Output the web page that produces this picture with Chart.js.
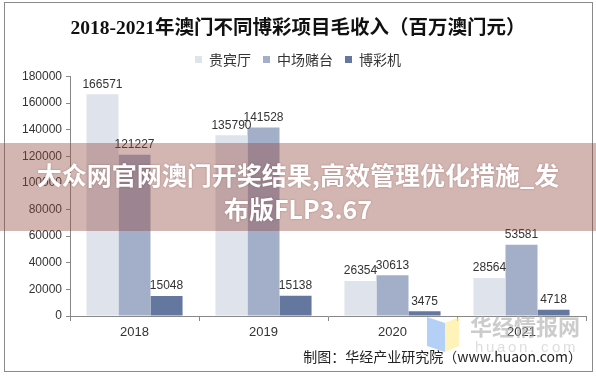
<!DOCTYPE html>
<html>
<head>
<meta charset="utf-8">
<script src="https://cdn.jsdelivr.net/npm/chart.js@4.4.1/dist/chart.umd.min.js"></script>
<style>
  html, body { margin: 0; padding: 0; background: #fff; }
  #wrap { width: 596px; height: 376px; }
</style>
</head>
<body>
<div id="wrap"><canvas id="gaugeChartincome" width="596" height="376"></canvas></div>
<script>
var years = ['2018', '2019', '2020', '2021'];
var seriesNames = ['贵宾厅', '中场赌台', '博彩机'];
var vipValues = [166571, 135790, 26354, 28564];
var massValues = [121227, 141528, 30613, 53581];
var slotValues = [15048, 15138, 3475, 4718];
var yTicks = [0, 20000, 40000, 60000, 80000, 100000, 120000, 140000, 160000, 180000];
var titleText = '2018-2021年澳门不同博彩项目毛收入（百万澳门元）';
var sourceText = '制图：华经产业研究院（www.huaon.com）';
var bannerLines = ['大众网官网澳门开奖结果,高效管理优化措施_发', '布版FLP3.67'];

var colors = ['#dfe3ec', '#a3afc8', '#64779f'];
var cjk = '"Noto Sans CJK SC", "Noto Sans", sans-serif';

var ctxincome = document.getElementById('gaugeChartincome').getContext('2d');

// labels over the bars
const barvalues = {
  id: 'barvalues',
  afterDatasetsDraw(chart) {
    const {ctx} = chart;
    ctx.save();
    ctx.font = '12px "Liberation Sans", Arial, sans-serif';
    ctx.fillStyle = '#333';
    ctx.textAlign = 'center';
    ctx.textBaseline = 'bottom';
    chart.data.datasets.forEach((ds, i) => {
      chart.getDatasetMeta(i).data.forEach((bar, j) => {
        ctx.fillText(ds.data[j], bar.x, bar.y - 4);
      });
    });
    ctx.restore();
  }
};

// outer frame, logo, source note, banner on top
const overlay = {
  id: 'overlay',
  afterDraw(chart) {
    const {ctx} = chart;
    ctx.save();
    ctx.strokeStyle = '#8a8a8a';
    ctx.lineWidth = 1;
    ctx.strokeRect(4.5, 2.5, 588, 369);

    // faint huaon logo
    ctx.fillStyle = 'rgba(120,170,240,0.55)';
    ctx.beginPath();
    ctx.moveTo(427, 317); ctx.lineTo(445, 323); ctx.lineTo(445, 352); ctx.lineTo(427, 346);
    ctx.closePath(); ctx.fill();
    ctx.fillStyle = 'rgba(255,235,140,0.6)';
    ctx.beginPath();
    ctx.moveTo(445, 323); ctx.lineTo(459, 317); ctx.lineTo(459, 346); ctx.lineTo(445, 352);
    ctx.closePath(); ctx.fill();
    ctx.font = 'bold 22px ' + cjk;
    ctx.fillStyle = 'rgba(170,170,170,0.6)';
    ctx.textAlign = 'left';
    ctx.textBaseline = 'middle';
    ctx.fillText('华经情报网', 470, 327);
    ctx.font = '15px "Liberation Sans", sans-serif';
    ctx.fillStyle = 'rgba(190,190,190,0.5)';
    var s = 'huaon.com';
    for (var k = 0; k < s.length; k++) ctx.fillText(s[k], 475 + k * 11, 348);

    ctx.font = '14px ' + cjk;
    ctx.fillStyle = '#222';
    ctx.textAlign = 'right';
    ctx.fillText(sourceText, 582, 357);

    // banner
    ctx.fillStyle = 'rgba(145,70,60,0.4)';
    ctx.fillRect(0, 143, 596, 88);
    ctx.font = 'bold 25px ' + cjk;
    ctx.fillStyle = '#fff';
    ctx.textAlign = 'center';
    ctx.shadowColor = 'rgba(80,30,30,0.35)';
    ctx.shadowBlur = 2;
    ctx.fillText(bannerLines[0], 298, 175);
    ctx.fillText(bannerLines[1], 298, 209);
    ctx.restore();
  }
};

var chartincome = new Chart(ctxincome, {
  type: 'bar',
  data: {
    labels: years,
    datasets: [
      { label: seriesNames[0], data: vipValues, backgroundColor: colors[0] },
      { label: seriesNames[1], data: massValues, backgroundColor: colors[1] },
      { label: seriesNames[2], data: slotValues, backgroundColor: colors[2] }
    ]
  },
  options: {
    responsive: false,
    animation: false,
    events: [],
    layout: { padding: { top: 5, right: 10, bottom: 30, left: 10 } },
    datasets: { bar: { barPercentage: 1, categoryPercentage: 0.745 } },
    plugins: {
      tooltip: { enabled: false },
      title: {
        display: true,
        text: titleText,
        color: '#111',
        font: { family: '"Liberation Serif", "Noto Sans CJK SC", serif', size: 19.5, weight: 'bold' },
        padding: { top: 12, bottom: 0 }
      },
      legend: {
        display: true,
        labels: {
          boxWidth: 7, boxHeight: 7,
          color: '#333',
          font: { family: cjk, size: 14 },
          padding: 12
        }
      }
    },
    scales: {
      x: {
        grid: { display: true, drawOnChartArea: false, drawTicks: true, tickLength: 5, color: '#888' },
        border: { color: '#888' },
        ticks: { color: '#333', font: { family: '"Liberation Sans", Arial, sans-serif', size: 13 }, padding: 4 },
        afterFit(scale) { scale.height = 30; }
      },
      y: {
        min: 0, max: 180000,
        afterBuildTicks(scale) { scale.ticks = yTicks.map(v => ({ value: v })); },
        grid: { display: true, drawOnChartArea: false, drawTicks: true, tickLength: 4, color: '#888' },
        border: { color: '#888' },
        ticks: {
          color: '#333',
          font: { family: '"Liberation Sans", Arial, sans-serif', size: 12 },
          padding: 4,
          callback: function (value) { return String(value); }
        },
        afterFit(scale) { scale.width = 60; }
      }
    }
  },
  plugins: [barvalues, overlay]
});
</script>
</body>
</html>
